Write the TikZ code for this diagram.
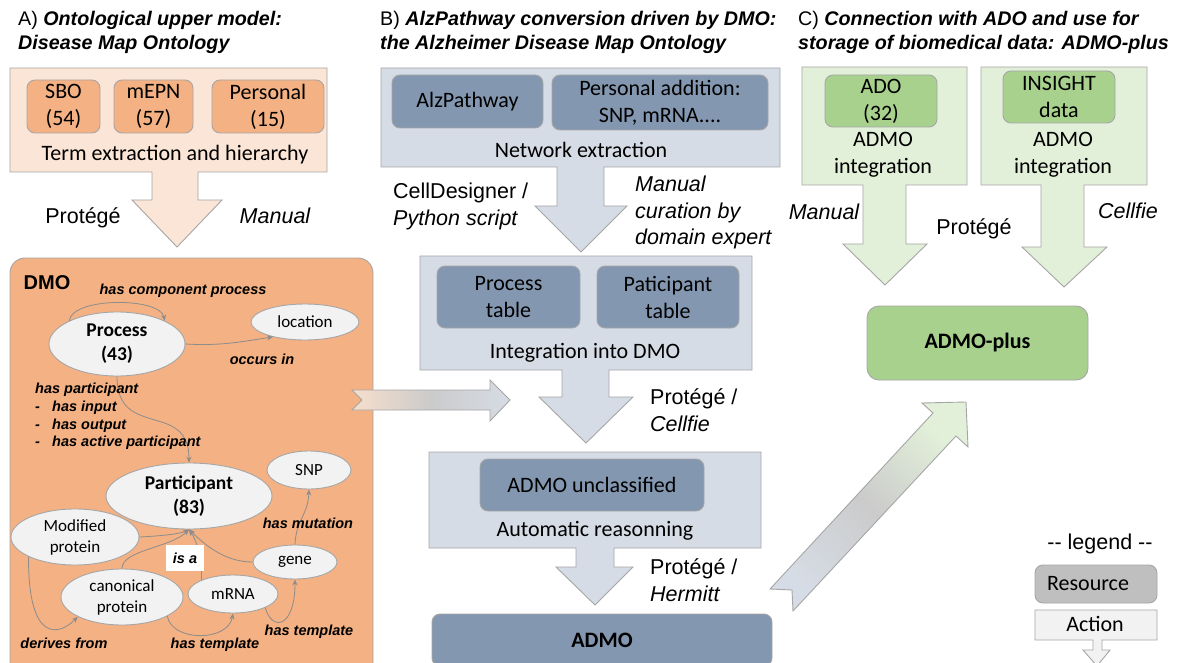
\documentclass[tikz,border=0pt]{standalone}
\usepackage{fontspec}
\setmainfont{Carlito}
\newfontfamily\arialf{Liberation Sans}
\usetikzlibrary{shapes.geometric,arrows.meta}

\definecolor{peachL}{HTML}{FBE5D6}
\definecolor{peachG}{HTML}{F6DFCC}
\definecolor{orangeM}{HTML}{F4B183}
\definecolor{blueL}{HTML}{D6DCE5}
\definecolor{blueD}{HTML}{8497B0}
\definecolor{greenL}{HTML}{E2F0D9}
\definecolor{greenM}{HTML}{A9D18E}
\definecolor{ellF}{HTML}{F2F2F2}
\definecolor{lineG}{HTML}{A6A6A6}
\definecolor{edgeG}{HTML}{8C8C8C}
\definecolor{midG}{HTML}{CBCBCB}
\definecolor{resG}{HTML}{BFBFBF}

\tikzset{
 res/.style={draw=lineG, rounded corners=8pt, line width=0.9pt, inner sep=0pt, align=center, font=\fontsize{22}{27}\selectfont},
 resb/.style={res, font=\bfseries\fontsize{22}{27}\selectfont},
 act/.style={draw=lineG, line width=0.9pt},
 ell/.style={ellipse, draw=lineG, fill=ellF, line width=0.9pt, inner sep=0pt, align=center, font=\fontsize{17}{21}\selectfont},
 ellb/.style={ell, font=\bfseries\fontsize{19.5}{24}\selectfont},
 rel/.style={draw=edgeG, line width=0.8pt, -{Stealth[length=6pt,width=5pt]}},
 lab/.style={font=\arialf\bfseries\itshape\fontsize{14.5}{17}\selectfont, inner sep=0pt},
 body/.style={font=\fontsize{22}{27}\selectfont, inner sep=0pt, align=center},
 tool/.style={font=\arialf\fontsize{21.5}{26.5}\selectfont, inner sep=0pt, align=left},
 tooli/.style={font=\arialf\itshape\fontsize{21.5}{26.5}\selectfont, inner sep=0pt, align=left},
 ttl/.style={font=\arialf\fontsize{19.7}{24}\selectfont, inner sep=0pt, anchor=base west},
}

\begin{document}
\begin{tikzpicture}[x=1pt,y=1pt]
\path[use as bounding box] (0,0) rectangle (1178,-663);
\clip (0,0) rectangle (1178,-663);
\fill[white] (0,0) rectangle (1178,-663);

% ---------- titles
\node[ttl] (tA1) at (18,-26) {A) {\bfseries\itshape Ontological upper model:}};
\node[ttl] (tA2) at (18,-50) {\bfseries\itshape Disease Map Ontology};
\node[ttl] (tB1) at (380,-26) {B) {\bfseries\itshape AlzPathway conversion driven by DMO:}};
\node[ttl] (tB2) at (380,-50) {\bfseries\itshape the Alzheimer Disease Map Ontology};
\node[ttl] (tC1) at (798,-26) {C) {\bfseries\itshape Connection with ADO and use for}};
\node[ttl] (tC2) at (798,-50) {\bfseries\itshape storage of biomedical data: ADMO-plus};

% ---------- A
\filldraw[act, fill=peachL] (10,-68) -- (327,-68) -- (327,-172) -- (198,-172) -- (198,-200) -- (222,-200) -- (177,-247) -- (132,-200) -- (152,-200) -- (152,-172) -- (10,-172) -- cycle;
\node[res, fill=orangeM, minimum width=73pt, minimum height=53pt] (sbo) at (63.5,-106.5) {SBO\\(54)};
\node[res, fill=orangeM, minimum width=79pt, minimum height=53pt] (mepn) at (153.5,-106.5) {mEPN\\(57)};
\node[res, fill=orangeM, minimum width=112pt, minimum height=53pt] (pers) at (268,-106.5) {Personal\\(15)};
\node[body] (teh) at (175,-155) {Term extraction and hierarchy};
\node[tool] (aprot) at (83,-218) {Protégé};
\node[tooli] (aman) at (275,-216) {Manual};

% ---------- DMO
\filldraw[act, fill=orangeM, rounded corners=15pt] (10,-258) rectangle (373,-700);
\node[font=\arialf\bfseries\fontsize{20}{24}\selectfont, inner sep=0pt] (dmot) at (47,-283) {DMO};

\node[ellb, minimum width=136pt, minimum height=64pt] (proc) at (117,-344) {Process\\(43)};
\node[ell, minimum width=108pt, minimum height=36pt] (loc) at (305,-322) {location};
\node[ellb, minimum width=166pt, minimum height=66pt] (part) at (189,-496) {Participant\\(83)};
\node[ell, minimum width=84pt, minimum height=38pt] (snp) at (309,-470) {SNP};
\node[ell, minimum width=128pt, minimum height=56pt] (mod) at (75,-537) {Modified\\protein};
\node[ell, minimum width=84pt, minimum height=34pt] (gene) at (295,-562) {gene};
\node[ell, minimum width=122pt, minimum height=56pt] (canon) at (122,-597) {canonical\\protein};
\node[ell, minimum width=90pt, minimum height=38pt] (mrna) at (233,-594) {mRNA};

\draw[rel] (proc.154) .. controls (72,-297) and (160,-297) .. (proc.26);
\draw[rel] (proc.east) .. controls (220,-346) and (240,-342) .. (loc.205);
\draw[rel] (proc.south) .. controls (117,-440) and (189,-400) .. (part.north);
\draw[rel] (mod.east) .. controls (160,-536) and (180,-534) .. (part.south);
\draw[rel] (canon.north) .. controls (122,-550) and (170,-548) .. (part.south);
\draw[rel] (mrna.156) .. controls (202,-555) and (196,-540) .. (part.south);
\draw[rel] (gene.west) .. controls (225,-562) and (205,-545) .. (part.south);
\draw[rel] (gene.north) .. controls (296,-520) and (308,-515) .. (snp.south);
\draw[rel] (mod.203) .. controls (28,-645) and (60,-635) .. (canon.204);
\draw[rel] (canon.-23) .. controls (172,-642) and (228,-642) .. (mrna.south);
\draw[rel] (mrna.-23) .. controls (272,-632) and (295,-628) .. (gene.south);

\node[lab, fill=white, minimum width=38pt, minimum height=26pt] (isa) at (185,-558) {is a};
\node[lab] (lhcp) at (183,-291) {has component process};
\node[lab] (locc) at (262,-359) {occurs in};
\node[lab, anchor=west] (lhp) at (35,-390) {has participant};
\node[lab, anchor=west] (lhp1) at (35,-408) {\makebox[17pt][l]{-}has input};
\node[lab, anchor=west] (lhp2) at (35,-426) {\makebox[17pt][l]{-}has output};
\node[lab, anchor=west] (lhp3) at (35,-443) {\makebox[17pt][l]{-}has active participant};
\node[lab] (lmut) at (308,-523) {has mutation};
\node[lab] (lht1) at (309,-632) {has template};
\node[lab] (lht2) at (215,-645) {has template};
\node[lab] (lder) at (64,-643) {derives from};

% ---------- horizontal gradient arrow
\shadedraw[draw=lineG, line width=0.9pt, left color=peachG, right color=blueL, middle color=midG] (352,-390) -- (490,-390) -- (490,-380) -- (510,-400) -- (490,-421) -- (490,-410) -- (352,-410) -- (362,-400) -- cycle;

% ---------- B
\filldraw[act, fill=blueL] (381,-68) -- (780,-68) -- (780,-167) -- (604,-167) -- (604,-206) -- (627,-206) -- (581,-252) -- (535,-206) -- (557,-206) -- (557,-167) -- (381,-167) -- cycle;
\node[res, fill=blueD, minimum width=151pt, minimum height=53pt] (alz) at (467.5,-101.5) {AlzPathway};
\node[res, fill=blueD, minimum width=216pt, minimum height=55pt] (padd) at (660,-102.5) {Personal addition:\\SNP, mRNA....};
\node[body] (netx) at (581,-150) {Network extraction};
\node[tool, anchor=west] (celld) at (393,-206.5) {CellDesigner /\\{\itshape Python script}};
\node[tooli, anchor=west] (mcur) at (635,-212.5) {Manual\\curation by\\domain expert};

\filldraw[act, fill=blueL] (420,-256) -- (752,-256) -- (752,-370) -- (609,-370) -- (609,-397) -- (633,-397) -- (586,-443) -- (539,-397) -- (562,-397) -- (562,-370) -- (420,-370) -- cycle;
\node[res, fill=blueD, minimum width=143pt, minimum height=62pt] (ptab) at (508.5,-297) {Process\\table};
\node[res, fill=blueD, minimum width=142pt, minimum height=62pt] (patab) at (668,-297) {Paticipant\\table};
\node[body] (intd) at (585,-353) {Integration into DMO};
\node[tool, anchor=west] (pcel) at (650,-410) {Protégé /\\{\itshape Cellfie}};

\filldraw[act, fill=blueL] (429,-452) -- (761,-452) -- (761,-548) -- (614,-548) -- (614,-567) -- (633,-567) -- (595,-605) -- (556,-567) -- (576,-567) -- (576,-548) -- (429,-548) -- cycle;
\node[res, fill=blueD, minimum width=224pt, minimum height=52pt] (admou) at (592,-485) {ADMO unclassified};
\node[body] (autr) at (595,-531) {Automatic reasonning};
\node[tool, anchor=west] (pher) at (650,-580) {Protégé /\\{\itshape Hermitt}};

\node[resb, fill=blueD, minimum width=340pt, minimum height=52pt] (admo) at (602,-640) {ADMO};

% ---------- C
\filldraw[act, fill=greenL] (802,-67) -- (967,-67) -- (967,-185) -- (906,-185) -- (906,-244) -- (927,-244) -- (885,-285) -- (843,-244) -- (863,-244) -- (863,-185) -- (802,-185) -- cycle;
\filldraw[act, fill=greenL] (981,-67) -- (1147,-67) -- (1147,-185) -- (1084,-185) -- (1084,-247) -- (1107,-247) -- (1064,-287) -- (1022,-247) -- (1041,-247) -- (1041,-185) -- (981,-185) -- cycle;
\node[res, fill=greenM, minimum width=112pt, minimum height=52pt] (ado) at (881,-101) {ADO\\(32)};
\node[body] (ai1) at (883,-155) {ADMO\\integration};
\node[res, fill=greenM, minimum width=112pt, minimum height=52pt] (ins) at (1059,-97) {INSIGHT\\data};
\node[body] (ai2) at (1063,-155) {ADMO\\integration};
\node[tooli] (cman) at (824,-212) {Manual};
\node[tool] (cprot) at (974,-229) {Protégé};
\node[tooli] (ccel) at (1128,-211) {Cellfie};
\node[resb, fill=greenM, minimum width=221pt, minimum height=74pt, rounded corners=12pt] (admop) at (977.5,-343) {ADMO-plus};

% ---------- diagonal gradient arrow
\shadedraw[draw=lineG, line width=0.9pt, top color=blueL, bottom color=greenL, middle color=midG, shading angle=135] (770,-589) -- (933,-413) -- (922,-403) -- (966,-402) -- (968,-447) -- (956,-436) -- (793,-611) -- (792,-590) -- cycle;

% ---------- legend
\node[font=\arialf\fontsize{21.5}{26}\selectfont, inner sep=0pt] (leg) at (1100,-544) {-{}- legend -{}-};
\node[res, fill=resG, minimum width=122pt, minimum height=38pt] (resl) at (1096,-584) {\hspace*{-16pt}Resource};
\filldraw[act, fill=ellF] (1035,-610) -- (1157,-610) -- (1157,-640) -- (1102,-640) -- (1102,-650) -- (1110,-650) -- (1097,-666) -- (1083,-650) -- (1093,-650) -- (1093,-640) -- (1035,-640) -- cycle;
\node[body] (actl) at (1095,-624) {Action};
\end{tikzpicture}
\end{document}
